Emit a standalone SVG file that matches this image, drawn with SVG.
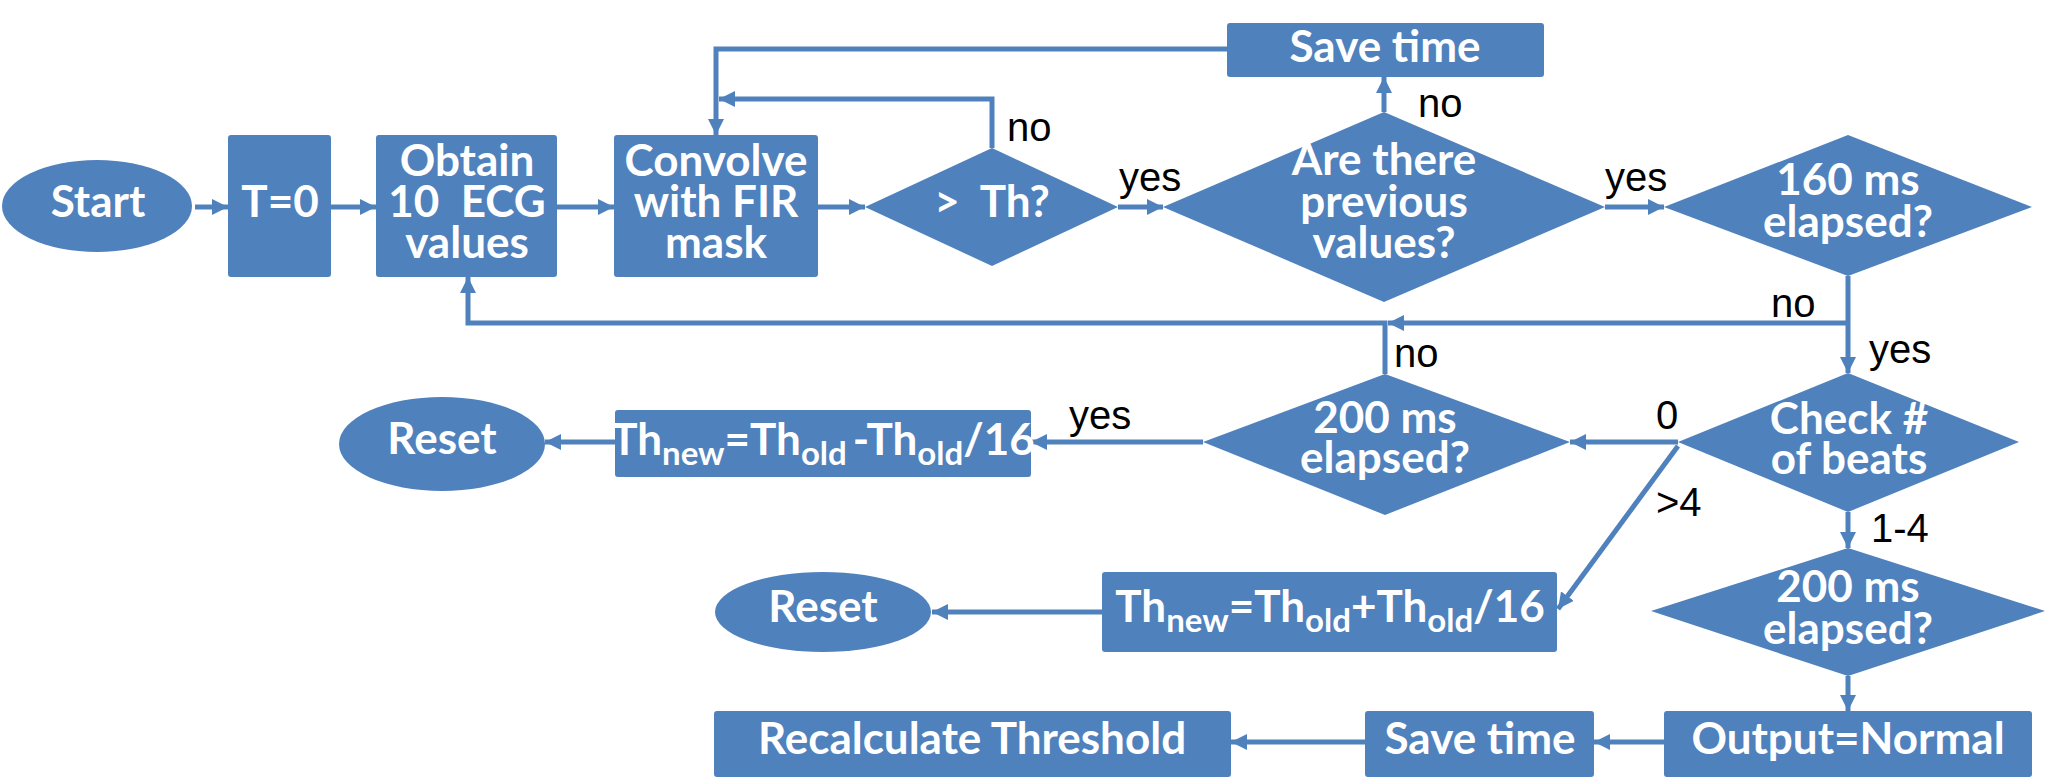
<svg xmlns="http://www.w3.org/2000/svg" width="2046" height="779" viewBox="0 0 2046 779">
<defs>
<style>
.n{fill:#4F81BD;stroke:none}
.t{font-family:Lato,"Liberation Sans",sans-serif;font-weight:bold;font-size:44px;fill:#fff;text-anchor:middle}
.l{font-family:"Liberation Sans",Arial,sans-serif;font-size:40px;fill:#000}
.c{fill:none;stroke:#4F81BD;stroke-width:5;marker-end:url(#ah)}
.s{font-size:33px}
</style>
<marker id="ah" markerUnits="userSpaceOnUse" markerWidth="18" markerHeight="16" refX="16" refY="8" orient="auto">
<path d="M0,0 L16,8 L0,16 z" fill="#4F81BD"/>
</marker>
</defs>
<rect width="2046" height="779" fill="#fff"/>
<g id="connectors">
<path class="c" d="M195,207 H228"/>
<path class="c" d="M331,207 H376"/>
<path class="c" d="M557,207 H614"/>
<path class="c" d="M818,207 H865"/>
<path class="c" d="M992,148 V99 H719"/>
<path class="c" d="M1227,49 H716 V135"/>
<path class="c" d="M1118,207 H1163"/>
<path class="c" d="M1384,112 V77"/>
<path class="c" d="M1605,207 H1664"/>
<path class="c" d="M1848,276 V373"/>
<path class="c" d="M1848,323 H1388"/>
<path class="c" d="M1385,374 V323 H468 V277"/>
<path class="c" d="M1678,442 H1570"/>
<path class="c" d="M1678,446 L1558,609"/>
<path class="c" d="M1848,512 V548"/>
<path class="c" d="M1203,442 H1031"/>
<path class="c" d="M615,442 H545"/>
<path class="c" d="M1102,612 H932"/>
<path class="c" d="M1848,676 V711"/>
<path class="c" d="M1664,742 H1594"/>
<path class="c" d="M1365,742 H1231"/>
</g>
<g id="edge-labels">
<text class="l" x="1007" y="141">no</text>
<text class="l" x="1119" y="191">yes</text>
<text class="l" x="1418" y="117">no</text>
<text class="l" x="1605" y="191">yes</text>
<text class="l" x="1771" y="317">no</text>
<text class="l" x="1869" y="363">yes</text>
<text class="l" x="1394" y="367">no</text>
<text class="l" x="1069" y="429">yes</text>
<text class="l" x="1656" y="429">0</text>
<text class="l" x="1656" y="516">&gt;4</text>
<text class="l" x="1871" y="542">1-4</text>
</g>
<g id="start"><ellipse class="n" cx="97" cy="206" rx="95" ry="46"/><text class="t" x="98" y="217">Start</text></g>
<g id="t0"><rect class="n" x="228" y="135" width="103" height="142" rx="3"/><text class="t" x="280" y="217">T=0</text></g>
<g id="obtain"><rect class="n" x="376" y="135" width="181" height="142" rx="3"/><text class="t" x="467" y="176">Obtain</text><text class="t" x="467" y="217">10&#160; ECG</text><text class="t" x="467" y="258">values</text></g>
<g id="convolve"><rect class="n" x="614" y="135" width="204" height="142" rx="3"/><text class="t" x="716" y="176">Convolve</text><text class="t" x="716" y="217">with FIR</text><text class="t" x="716" y="258">mask</text></g>
<g id="th"><polygon class="n" points="865,207 992,148 1118,207 992,266"/><text class="t" x="992" y="217">&gt;&#160; Th?</text></g>
<g id="savetime1"><rect class="n" x="1227" y="23" width="317" height="54" rx="3"/><text class="t" x="1385" y="62">Save time</text></g>
<g id="prev"><polygon class="n" points="1163,207 1384,112 1605,207 1384,302"/><text class="t" x="1384" y="175">Are there</text><text class="t" x="1384" y="217">previous</text><text class="t" x="1384" y="258">values?</text></g>
<g id="e160"><polygon class="n" points="1664,207 1848,135 2032,207 1848,276"/><text class="t" x="1848" y="195">160 ms</text><text class="t" x="1848" y="237">elapsed?</text></g>
<g id="check"><polygon class="n" points="1678,442 1848,373 2019,442 1848,512"/><text class="t" x="1849" y="434">Check #</text><text class="t" x="1849" y="474">of beats</text></g>
<g id="e200a"><polygon class="n" points="1203,442 1385,374 1570,442 1385,515"/><text class="t" x="1385" y="433">200 ms</text><text class="t" x="1385" y="473">elapsed?</text></g>
<g id="e200b"><polygon class="n" points="1651,611 1848,548 2045,611 1848,676"/><text class="t" x="1848" y="602">200 ms</text><text class="t" x="1848" y="644">elapsed?</text></g>
<g id="thminus"><rect class="n" x="615" y="410" width="416" height="67" rx="3"/><text class="t" x="823" y="455">Th<tspan class="s" dy="10">new</tspan><tspan dy="-10">=Th</tspan><tspan class="s" dy="10">old</tspan><tspan dy="-10" dx="6">-Th</tspan><tspan class="s" dy="10">old</tspan><tspan dy="-10">/16</tspan></text></g>
<g id="reset1"><ellipse class="n" cx="442" cy="444" rx="103" ry="47"/><text class="t" x="442" y="454">Reset</text></g>
<g id="thplus"><rect class="n" x="1102" y="572" width="455" height="80" rx="3"/><text class="t" x="1330" y="622">Th<tspan class="s" dy="10">new</tspan><tspan dy="-10">=Th</tspan><tspan class="s" dy="10">old</tspan><tspan dy="-10">+Th</tspan><tspan class="s" dy="10">old</tspan><tspan dy="-10">/16</tspan></text></g>
<g id="reset2"><ellipse class="n" cx="823" cy="612" rx="108" ry="40"/><text class="t" x="823" y="622">Reset</text></g>
<g id="output"><rect class="n" x="1664" y="711" width="368" height="66" rx="3"/><text class="t" x="1848" y="754">Output=Normal</text></g>
<g id="savetime2"><rect class="n" x="1365" y="711" width="229" height="66" rx="3"/><text class="t" x="1480" y="754">Save time</text></g>
<g id="recalc"><rect class="n" x="714" y="711" width="517" height="66" rx="3"/><text class="t" x="972" y="754">Recalculate Threshold</text></g>
</svg>
